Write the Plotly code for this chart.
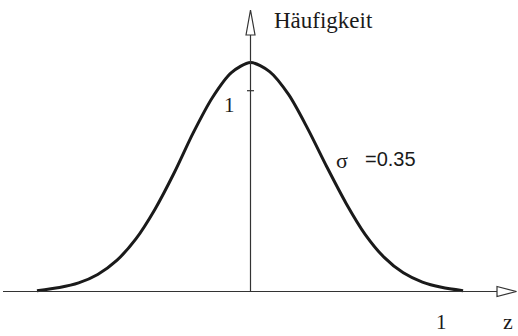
import plotly.graph_objects as go

# ---- data ----
z_values = [-1.118, -1.0, -0.9, -0.8, -0.7, -0.6, -0.5, -0.4, -0.3, -0.2, -0.1, 0.0,
            0.1, 0.2, 0.3, 0.4, 0.5, 0.6, 0.7, 0.8, 0.9, 1.0, 1.113]
frequency = [0.004, 0.02, 0.043, 0.085, 0.155, 0.262, 0.41, 0.59, 0.79, 0.965, 1.09, 1.14,
             1.095, 0.98, 0.81, 0.62, 0.44, 0.285, 0.17, 0.093, 0.047, 0.021, 0.004]
y_tick_value = 1
x_tick_value = 1
y_title = "Häufigkeit"
x_title = "z"
sigma_label = "σ"
sigma_value = "=0.35"

# ---- layout constants ----
W, H = 518, 336
X0_PX, XUNIT = 250.5, 191.0
Y0_PX, YUNIT = 291.5, 200.8


def zx(px):
    return (px - X0_PX) / XUNIT


def zy(py):
    return (Y0_PX - py) / YUNIT


INK = "#1a1a1a"
AX = "#333333"
SERIF = "Liberation Serif, Times New Roman, serif"
SANS = "Liberation Sans, Arial, sans-serif"

fig = go.Figure()
fig.add_trace(go.Scatter(x=z_values, y=frequency, mode="lines",
                         line=dict(color=INK, width=3, shape="spline", smoothing=0.8),
                         hoverinfo="skip", showlegend=False))

shapes = []
# horizontal axis
shapes.append(dict(type="line", x0=zx(3), x1=zx(497), y0=0, y1=0,
                   line=dict(color=AX, width=1.2)))
shapes.append(dict(type="path",
                   path=f"M {zx(497)},{zy(Y0_PX-5)} L {zx(516.5)},0 L {zx(497)},{zy(Y0_PX+5)} Z",
                   line=dict(color=AX, width=1.2), fillcolor="white"))
# vertical axis
shapes.append(dict(type="line", x0=0, x1=0, y0=0, y1=zy(35),
                   line=dict(color=AX, width=1.2)))
shapes.append(dict(type="path",
                   path=f"M {zx(X0_PX-4.5)},{zy(35)} L 0,{zy(10)} L {zx(X0_PX+4.5)},{zy(35)} Z",
                   line=dict(color=AX, width=1.2), fillcolor="white"))
# y tick
shapes.append(dict(type="line", x0=zx(X0_PX-3.5), x1=zx(X0_PX+3.5),
                   y0=y_tick_value, y1=y_tick_value, line=dict(color=AX, width=1.2)))

annotations = [
    dict(x=zx(229), y=zy(105), text=str(y_tick_value), showarrow=False,
         font=dict(family=SERIF, size=21, color=INK), xanchor="center", yanchor="middle"),
    dict(x=x_tick_value, y=zy(335), text=str(x_tick_value), showarrow=False, borderpad=0,
         font=dict(family=SERIF, size=21, color=INK), xanchor="center", yanchor="bottom"),
    dict(x=zx(508), y=zy(335), text=x_title, showarrow=False, borderpad=0,
         font=dict(family=SERIF, size=22, color=INK), xanchor="center", yanchor="bottom"),
    dict(x=zx(272), y=zy(20), text=y_title, showarrow=False,
         font=dict(family=SERIF, size=23, color=INK), xanchor="left", yanchor="middle"),
    dict(x=zx(341.5), y=zy(160), text=sigma_label, showarrow=False,
         font=dict(family=SERIF, size=22, color=INK), xanchor="center", yanchor="middle"),
    dict(x=zx(363), y=zy(159), text=sigma_value, showarrow=False,
         font=dict(family=SANS, size=20, color=INK), xanchor="left", yanchor="middle"),
]

fig.update_layout(
    width=W, height=H, autosize=False,
    margin=dict(l=0, r=0, t=0, b=0, pad=0),
    paper_bgcolor="white", plot_bgcolor="white",
    xaxis=dict(range=[zx(0), zx(W)], visible=False, fixedrange=True),
    yaxis=dict(range=[zy(H), zy(0)], visible=False, fixedrange=True),
    shapes=shapes, annotations=annotations,
)

fig.write_html(
    "out.html",
    config={"displayModeBar": False, "staticPlot": True},
    post_script="document.body.style.margin='0';document.body.style.padding='0';"
                "document.body.style.overflow='hidden';",
)
